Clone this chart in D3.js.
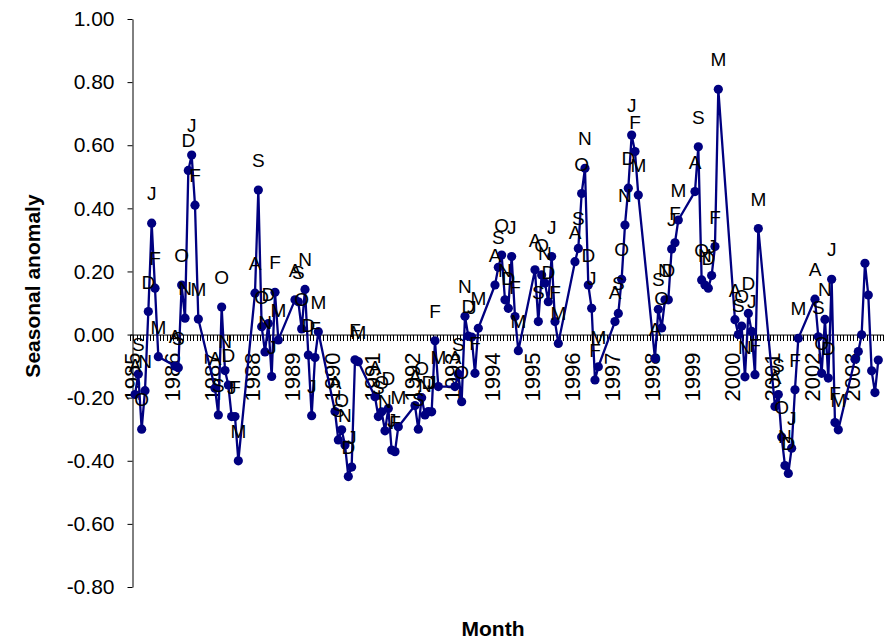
<!DOCTYPE html>
<html><head><meta charset="utf-8">
<script src="https://cdn.jsdelivr.net/npm/d3@7"></script>
<style>
body{margin:0;background:#fff}
text{font-family:"Liberation Sans",Arial,sans-serif}
</style>
</head><body>
<svg id="chart" width="892" height="641"></svg>
<script>
// ---- data ----
const seasonYears = [1985,1986,1987,1988,1989,1990,1991,1992,1993,1994,1995,1996,1997,1998,1999,2000,2001,2002,2003];
const monthLetters = ["A","S","O","N","D","J","F","M"]; // Aug .. Mar of each season
const anomalies = [
  [-0.19,-0.125,-0.30,-0.178,0.073,0.353,0.147,-0.07],   // 1985
  [-0.10,-0.105,0.157,0.052,0.52,0.569,0.41,0.049],      // 1986
  [-0.17,-0.255,0.087,-0.114,-0.16,-0.26,-0.26,-0.40],   // 1987
  [0.131,0.458,0.025,-0.055,0.035,-0.133,0.134,-0.017],  // 1988
  [0.11,0.104,0.018,0.143,-0.065,-0.257,-0.073,0.009],   // 1989
  [-0.244,-0.334,-0.302,-0.35,-0.45,-0.42,-0.08,-0.086], // 1990
  [-0.197,-0.26,-0.245,-0.305,-0.234,-0.366,-0.371,-0.292], // 1991
  [-0.225,-0.30,-0.20,-0.255,-0.244,-0.245,-0.02,-0.165],   // 1992
  [-0.165,-0.125,-0.213,0.058,-0.005,-0.008,-0.123,0.02],   // 1993
  [0.157,0.213,0.252,0.11,0.083,0.247,0.057,-0.051],     // 1994
  [0.205,0.041,0.189,0.163,0.104,0.247,0.041,-0.028],    // 1995
  [0.231,0.273,0.447,0.527,0.157,0.083,-0.144,-0.102],   // 1996
  [0.041,0.067,0.175,0.347,0.464,0.632,0.58,0.442],      // 1997
  [-0.076,0.08,0.021,0.11,0.11,0.271,0.291,0.363],       // 1998
  [0.453,0.595,0.173,0.157,0.147,0.187,0.279,0.777],     // 1999
  [0.047,0.0,0.027,-0.134,0.067,0.01,-0.127,0.336],      // 2000
  [-0.228,-0.19,-0.325,-0.415,-0.44,-0.36,-0.175,-0.012],// 2001
  [0.112,-0.007,-0.123,0.048,-0.138,0.175,-0.279,-0.302],// 2002
  [-0.078,-0.054,-0.001,0.226,0.125,-0.115,-0.184,-0.081] // 2003
];
const labelledSeasons = seasonYears.filter(yr => yr <= 2002);
const yTicks = [-0.8,-0.6,-0.4,-0.2,0,0.2,0.4,0.6,0.8,1.0];
const yearTickLabels = seasonYears.map(String);
const yTitle = "Seasonal anomaly";
const xTitle = "Month";

// ---- categories: every month Jul 1985 .. Apr 2004 ----
const key = d => d.getFullYear() + "-" + String(d.getMonth()+1).padStart(2,"0");
const categories = d3.timeMonths(new Date(1985,6,1), new Date(2004,4,1)).map(key);

const points = [];
seasonYears.forEach((yr, si) => {
  monthLetters.forEach((m, j) => {
    points.push({season: yr, letter: m, cat: key(new Date(yr, 7 + j, 1)), value: anomalies[si][j]});
  });
});

// ---- layout ----
const plotLeft = 130, plotRight = 883.3, plotTop = 19, plotBottom = 587;
const svg = d3.select("#chart");

const x = d3.scaleBand().domain(categories).range([plotLeft, plotRight]);
const xc = c => x(c) + x.bandwidth() / 2;
const xb = d3.scaleLinear().domain([0, categories.length]).range([plotLeft, plotRight]);
const y = d3.scaleLinear().domain([-0.8, 1.0]).range([plotBottom, plotTop]);

const navy = "#000080";

// y axis
const yAxis = svg.append("g").attr("transform", `translate(${plotLeft + 2.5},0)`)
  .call(d3.axisLeft(y).tickValues(yTicks).tickSize(5).tickSizeOuter(0).tickPadding(13)
    .tickFormat(d => d.toFixed(2)));
yAxis.select(".domain").attr("stroke", "#000").attr("stroke-width", 1);
yAxis.selectAll(".tick line").attr("stroke", "#000");
yAxis.selectAll(".tick text").attr("font-size", 21).attr("fill", "#000")
  .attr("font-family", '"Liberation Sans",Arial,sans-serif');

// x axis at zero
const xAxis = svg.append("g").attr("transform", `translate(0,${y(0)})`)
  .call(d3.axisBottom(xb).tickValues(d3.range(categories.length + 1)).tickSize(6).tickSizeOuter(0).tickFormat(""));
xAxis.select(".domain").attr("stroke", "#000").attr("stroke-width", 1);
xAxis.selectAll(".tick line").attr("stroke", "#000").attr("stroke-width", 1).attr("shape-rendering", "crispEdges");

// year labels
svg.append("g").selectAll("text").data(yearTickLabels).join("text")
  .attr("transform", d => `translate(${xc(d + "-07")},${y(0) + 18}) rotate(-90)`)
  .attr("text-anchor", "end").attr("dy", "0.36em")
  .attr("font-size", 22).attr("fill", "#000").text(d => d);

// line
svg.append("path").datum(points)
  .attr("fill", "none").attr("stroke", navy).attr("stroke-width", 2.3)
  .attr("stroke-linejoin", "round")
  .attr("d", d3.line().x(d => xc(d.cat)).y(d => y(d.value)));

// markers
svg.append("g").selectAll("circle").data(points).join("circle")
  .attr("cx", d => xc(d.cat)).attr("cy", d => y(d.value)).attr("r", 4.6)
  .attr("fill", navy);

// data labels
svg.append("g").selectAll("text").data(points.filter(p => labelledSeasons.includes(p.season))).join("text")
  .attr("x", d => xc(d.cat)).attr("y", d => y(d.value) - 23)
  .attr("text-anchor", "middle").attr("font-size", 19).attr("fill", "#000")
  .text(d => d.letter);

// titles
svg.append("text").attr("transform", `translate(40,${(plotTop + plotBottom) / 2 - 17}) rotate(-90)`)
  .attr("text-anchor", "middle").attr("font-size", 21).attr("font-weight", "bold").text(yTitle);
svg.append("text").attr("x", 493).attr("y", 636)
  .attr("text-anchor", "middle").attr("font-size", 21).attr("font-weight", "bold").text(xTitle);
</script>
</body></html>
